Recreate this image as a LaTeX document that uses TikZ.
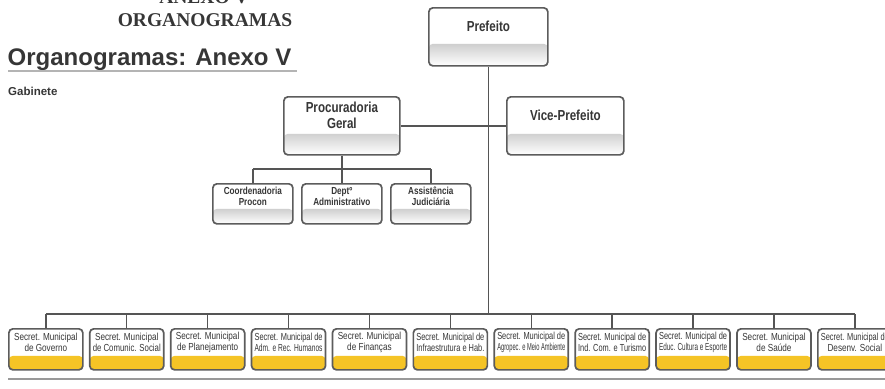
\documentclass[tikz,border=0pt]{standalone}
\usepackage{fontspec}
\setmainfont{Liberation Sans}
\newfontfamily\condfont[FakeStretch=0.8]{Liberation Sans}
\newfontfamily\titleserif{Liberation Serif}
\usetikzlibrary{calc}

\definecolor{ink}{HTML}{363636}
\definecolor{frame}{HTML}{5C5C5C}
\definecolor{wirecol}{HTML}{555555}
\definecolor{shade}{HTML}{E4E4E4}
\definecolor{gold}{HTML}{F5C426}
\definecolor{rulecol}{HTML}{B4B4B4}

% squeeze a single line horizontally when it is wider than the box allows
\newsavebox\fitbox
\newcommand\fitline[2][68pt]{\sbox\fitbox{#2}\ifdim\wd\fitbox>#1\relax\resizebox{#1}{\height}{#2}\else\usebox\fitbox\fi}

\tikzset{
  orgbox/.style={draw=frame, line width=1.7pt, rounded corners=4pt, fill=white,
                 inner sep=0pt, anchor=north west},
  lowband/.style 2 args={path picture={\fill[#1]
      ([yshift=#2]path picture bounding box.south west) rectangle
      (path picture bounding box.south east);}},
  labeltext/.style={align=center, inner sep=0pt, text=ink},
  toplabel/.style={font=\condfont\bfseries\fontsize{14.5}{16}\selectfont},
  midlabel/.style={font=\condfont\bfseries\fontsize{10.2}{11}\selectfont},
  seclabel/.style={font=\condfont\fontsize{10.2}{11.2}\selectfont},
  wire/.style={draw=wirecol, line width=1.4pt},
}

% #1 name, #2 left x, #3 top y, #4 width, #5 height, #6 band height,
% #7 band colour, #8 label style, #9 label
\newcommand\orgunit[9]{%
  \node[orgbox, minimum width=#4pt, minimum height=#5pt, lowband={#7}{#6pt}] (#1) at (#2,#3) {};
  \node[labeltext, #8] (#1-txt) at ($(#1.north)!0.5!([yshift=#6pt]#1.south)$) {#9};
}

\begin{document}
\begin{tikzpicture}[x=1pt, y=-1pt]
\useasboundingbox (0,0) rectangle (885,388);
\clip (0,0) rectangle (885,388);

% headings
\node[anchor=base, inner sep=0pt, text=ink, font=\titleserif\bfseries\fontsize{19.5}{21}\selectfont] (annex) at (204,4) {ANEXO V};
\node[anchor=base, inner sep=0pt, text=ink, font=\titleserif\bfseries\fontsize{19.5}{21}\selectfont] (orgs) at (205,27) {ORGANOGRAMAS};
\node[anchor=base west, inner sep=0pt, text=ink, font=\bfseries\fontsize{24}{26}\selectfont] (heading) at (7.5,65) {Organogramas: Anexo V};
\coordinate (ruleL) at (8,71);
\coordinate (ruleR) at (297,71);
\draw[rulecol, line width=1.5pt] (ruleL) -- (ruleR);
\node[anchor=base west, inner sep=0pt, text=ink, font=\bfseries\fontsize{11.5}{13}\selectfont] (cabinet) at (8,95) {Gabinete};

% upper levels
\orgunit{mayor}{428}{7}{119}{58}{22}{shade}{toplabel}{Prefeito}
\orgunit{attorney}{283}{96}{116}{58}{21}{shade}{toplabel}{Procuradoria\\Geral}
\orgunit{vice}{506}{96}{117}{58}{21}{shade}{toplabel}{Vice-Prefeito}

\orgunit{procon}{212}{183}{80}{40}{15}{shade}{midlabel}{Coordenadoria\\Procon}
\orgunit{admin}{301}{183}{80}{40}{15}{shade}{midlabel}{Deptº\\Administrativo}
\orgunit{legal}{390}{183}{80}{40}{15}{shade}{midlabel}{Assistência\\Judiciária}

% bus lines
\coordinate (subbus) at (0,169);
\coordinate (busrow) at (0,314);

\draw[wire] (attorney.east) -- (vice.west);
\draw[wire] (attorney.south) -- (attorney.south |- subbus);
\draw[wire] (procon.north |- subbus) -- (legal.north |- subbus);
\foreach \d in {procon, admin, legal}
  \draw[wire] (\d.north) -- (\d.north |- subbus);

% secretariats
\foreach \txt [count=\k from 0] in {
  {\fitline{Secret. Municipal}\\\fitline{de Governo}},
  {\fitline{Secret. Municipal}\\\fitline{de Comunic. Social}},
  {\fitline{Secret. Municipal}\\\fitline{de Planejamento}},
  {\fitline{Secret. Municipal de}\\\fitline{Adm. e Rec. Humanos}},
  {\fitline{Secret. Municipal}\\\fitline{de Finanças}},
  {\fitline{Secret. Municipal de}\\\fitline{Infraestrutura e Hab.}},
  {\fitline{Secret. Municipal de}\\\fitline{Agropec. e Meio Ambiente}},
  {\fitline{Secret. Municipal de}\\\fitline{Ind. Com. e Turismo}},
  {\fitline{Secret. Municipal de}\\\fitline{Educ. Cultura e Esporte}},
  {\fitline{Secret. Municipal}\\\fitline{de Saúde}},
  {\fitline{Secret. Municipal de}\\\fitline{Desenv. Social}}}
{
  \pgfmathsetmacro\lx{8+80.9*\k}
  \orgunit{sec\k}{\lx}{328}{74}{41}{14}{gold}{seclabel}{\txt}
  \draw[wire] (sec\k.north) -- (sec\k.north |- busrow);
}
\draw[wire] (sec0.north |- busrow) -- (sec10.north |- busrow);
\draw[wire] (mayor.south) -- (mayor.south |- busrow);

% closing rule
\coordinate (footL) at (8,379);
\coordinate (footR) at (885,379);
\draw[rulecol!85!black, line width=1.5pt] (footL) -- (footR);
\end{tikzpicture}
\end{document}
